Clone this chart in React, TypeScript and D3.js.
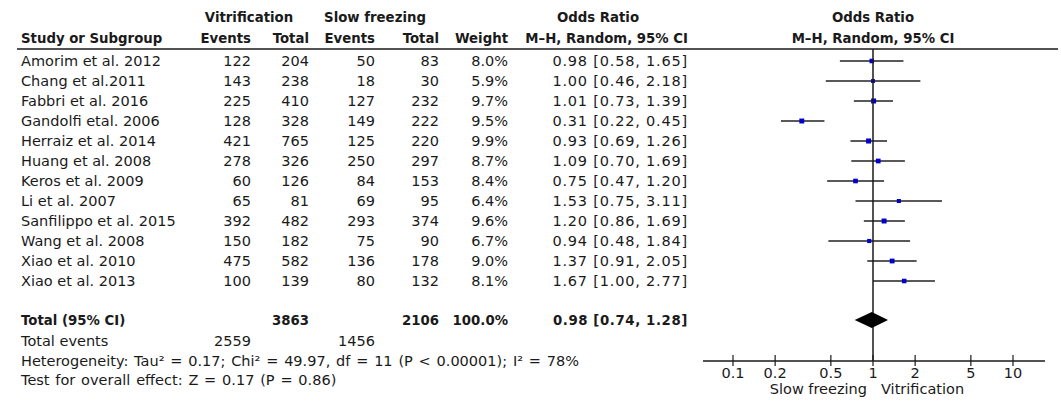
import React from 'react';
import * as d3 from 'd3';

// study rows
const studies = [
  'Amorim et al. 2012', 'Chang et al.2011', 'Fabbri et al. 2016', 'Gandolfi etal. 2006',
  'Herraiz et al. 2014', 'Huang et al. 2008', 'Keros et al. 2009', 'Li et al. 2007',
  'Sanfilippo et al. 2015', 'Wang et al. 2008', 'Xiao et al. 2010', 'Xiao et al. 2013',
];
const vitEvents = [122, 143, 225, 128, 421, 278, 60, 65, 392, 150, 475, 100];
const vitTotal = [204, 238, 410, 328, 765, 326, 126, 81, 482, 182, 582, 139];
const slowEvents = [50, 18, 127, 149, 125, 250, 84, 69, 293, 75, 136, 80];
const slowTotal = [83, 30, 232, 222, 220, 297, 153, 95, 374, 90, 178, 132];
const weights = [8.0, 5.9, 9.7, 9.5, 9.9, 8.7, 8.4, 6.4, 9.6, 6.7, 9.0, 8.1];
const orValue = [0.98, 1.0, 1.01, 0.31, 0.93, 1.09, 0.75, 1.53, 1.2, 0.94, 1.37, 1.67];
const orLower = [0.58, 0.46, 0.73, 0.22, 0.69, 0.7, 0.47, 0.75, 0.86, 0.48, 0.91, 1.0];
const orUpper = [1.65, 2.18, 1.39, 0.45, 1.26, 1.69, 1.2, 3.11, 1.69, 1.84, 2.05, 2.77];

const pooled = { or: 0.98, lo: 0.74, hi: 1.28 };
const totals = { vitTotal: 3863, slowTotal: 2106, vitEvents: 2559, slowEvents: 1456 };
const axisTicks = [0.1, 0.2, 0.5, 1, 2, 5, 10];

const W = 1061;
const H = 401;
const FONT = '"DejaVu Sans", Verdana, sans-serif';
const INK = '#1a1a1a';

export default function App() {
  const x = d3.scaleLog().domain([0.1, 10]).range([733, 1013]);
  const rowY = d3.scalePoint<number>().domain(d3.range(studies.length)).range([61, 281]);
  const fmt1 = d3.format('.1f');
  const fmt2 = d3.format('.2f');

  // column right edges
  const col = { vitE: 251, vitT: 309, slowE: 375, slowT: 439, weight: 508, ci: 688 };

  const T = (props: any) => (
    <text
      fontFamily={FONT}
      fontSize={props.fontWeight === 'bold' ? 13.3 : 14.5}
      fill={INK}
      dy="0.35em"
      {...props}
    />
  );

  const axisY = 361;
  const sq = (w: number) => 1.6 * Math.sqrt(w);

  return (
    <div style={{ position: 'absolute', left: 0, top: 0 }}>
      <svg width={W} height={H} style={{ display: 'block', background: '#fff' }}>
        {/* headers */}
        <T x={249} y={17} textAnchor="middle" fontWeight="bold">Vitrification</T>
        <T x={375} y={17} textAnchor="middle" fontWeight="bold">Slow freezing</T>
        <T x={598} y={17} textAnchor="middle" fontWeight="bold">Odds Ratio</T>
        <T x={873} y={17} textAnchor="middle" fontWeight="bold">Odds Ratio</T>
        <T x={21} y={38} fontWeight="bold">Study or Subgroup</T>
        <T x={col.vitE} y={38} textAnchor="end" fontWeight="bold">Events</T>
        <T x={col.vitT} y={38} textAnchor="end" fontWeight="bold">Total</T>
        <T x={col.slowE} y={38} textAnchor="end" fontWeight="bold">Events</T>
        <T x={col.slowT} y={38} textAnchor="end" fontWeight="bold">Total</T>
        <T x={col.weight} y={38} textAnchor="end" fontWeight="bold">Weight</T>
        <T x={col.ci} y={38} textAnchor="end" fontWeight="bold">M–H, Random, 95% CI</T>
        <T x={873} y={38} textAnchor="middle" fontWeight="bold">M–H, Random, 95% CI</T>
        <line x1={17} x2={1058} y1={49} y2={49} stroke={INK} strokeWidth={1.5} />

        {/* study rows */}
        {studies.map((s, i) => {
          const y = rowY(i)!;
          return (
            <g key={s}>
              <T x={21} y={y}>{s}</T>
              <T x={col.vitE} y={y} textAnchor="end">{vitEvents[i]}</T>
              <T x={col.vitT} y={y} textAnchor="end">{vitTotal[i]}</T>
              <T x={col.slowE} y={y} textAnchor="end">{slowEvents[i]}</T>
              <T x={col.slowT} y={y} textAnchor="end">{slowTotal[i]}</T>
              <T x={col.weight} y={y} textAnchor="end">{fmt1(weights[i])}%</T>
              <T x={col.ci} y={y} textAnchor="end" letterSpacing={0.8}>
                {`${fmt2(orValue[i])} [${fmt2(orLower[i])}, ${fmt2(orUpper[i])}]`}
              </T>
              <line x1={x(orLower[i])} x2={x(orUpper[i])} y1={y} y2={y} stroke="#222" strokeWidth={1.4} />
              <rect
                x={x(orValue[i]) - sq(weights[i]) / 2}
                y={y - sq(weights[i]) / 2}
                width={sq(weights[i])}
                height={sq(weights[i])}
                fill="#0000cc"
              />
            </g>
          );
        })}

        {/* totals */}
        <T x={21} y={320} fontWeight="bold">Total (95% CI)</T>
        <T x={col.vitT} y={320} textAnchor="end" fontWeight="bold">{totals.vitTotal}</T>
        <T x={col.slowT} y={320} textAnchor="end" fontWeight="bold">{totals.slowTotal}</T>
        <T x={col.weight} y={320} textAnchor="end" fontWeight="bold">100.0%</T>
        <T x={col.ci} y={320} textAnchor="end" fontWeight="bold" letterSpacing={0.6}>
          {`${fmt2(pooled.or)} [${fmt2(pooled.lo)}, ${fmt2(pooled.hi)}]`}
        </T>
        <T x={21} y={341}>Total events</T>
        <T x={col.vitE} y={341} textAnchor="end">{totals.vitEvents}</T>
        <T x={col.slowE} y={341} textAnchor="end">{totals.slowEvents}</T>
        <T x={21} y={361} wordSpacing={1.2}>
          Heterogeneity: Tau² = 0.17; Chi² = 49.97, df = 11 (P &lt; 0.00001); I² = 78%
        </T>
        <T x={21} y={380} wordSpacing={1.2}>Test for overall effect: Z = 0.17 (P = 0.86)</T>

        {/* plot */}
        <line x1={x(1)} x2={x(1)} y1={49} y2={axisY} stroke={INK} strokeWidth={1.5} />
        <path
          d={`M${x(pooled.lo)},320 L${x(pooled.or)},312 L${x(pooled.hi)},320 L${x(pooled.or)},328 Z`}
          fill="#000"
        />
        <line x1={703} x2={1045} y1={axisY} y2={axisY} stroke={INK} strokeWidth={1.5} />
        {axisTicks.map((t) => (
          <g key={t}>
            <line x1={x(t)} x2={x(t)} y1={axisY - 6} y2={axisY + 5} stroke={INK} strokeWidth={1.2} />
            <T x={x(t)} y={373} textAnchor="middle">{t}</T>
          </g>
        ))}
        <T x={x(1) - 6} y={389} textAnchor="end">Slow freezing</T>
        <T x={x(1) + 8} y={389}>Vitrification</T>
      </svg>
    </div>
  );
}
